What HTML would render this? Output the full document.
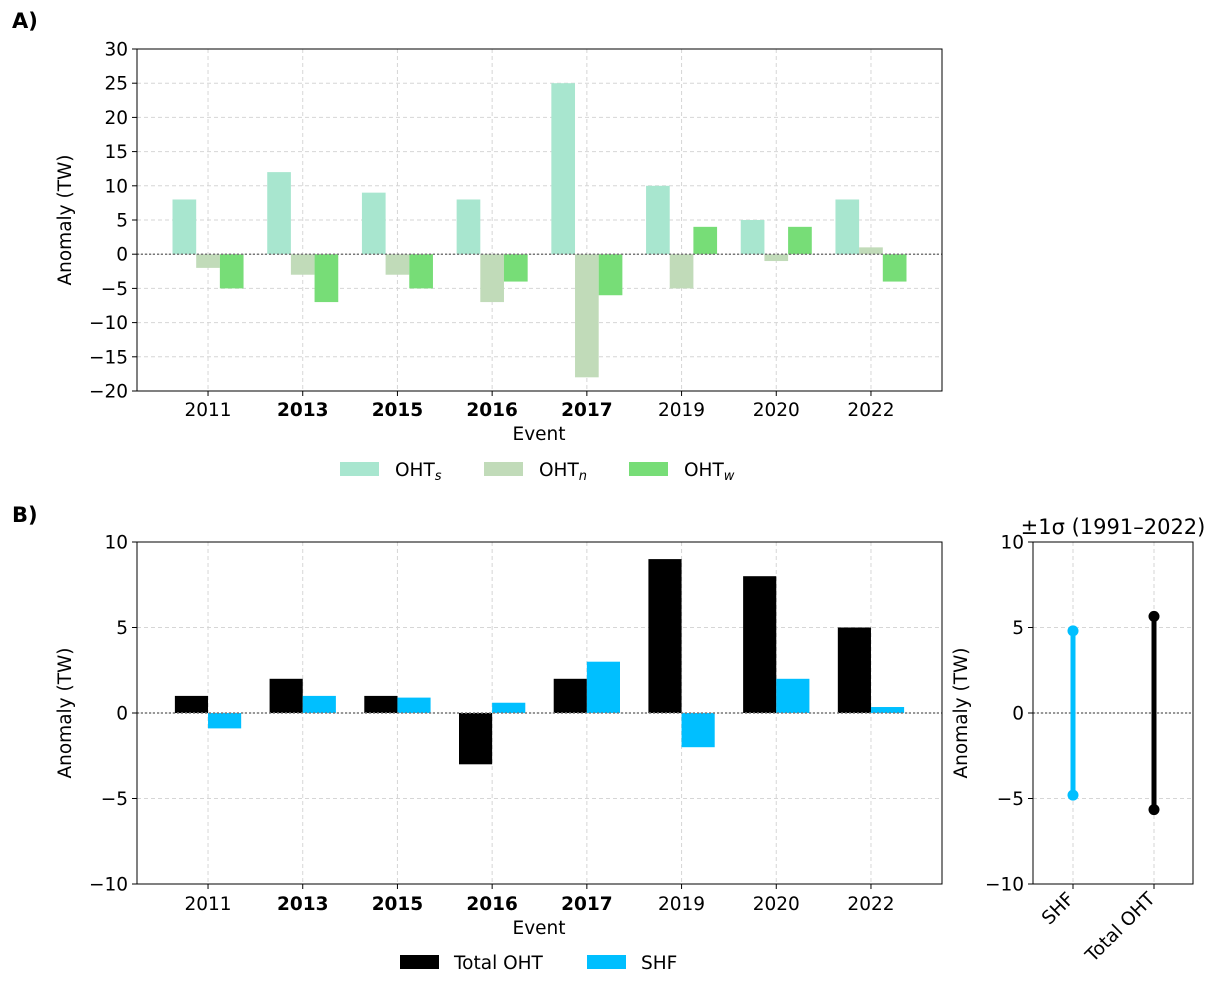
<!DOCTYPE html>
<html><head><meta charset="utf-8"><style>
body{margin:0;background:#fff;font-family:"DejaVu Sans","Liberation Sans",sans-serif;}
svg text{font-family:"DejaVu Sans","Liberation Sans",sans-serif;}
</style></head><body>
<svg id="s" width="1216" height="981" xmlns="http://www.w3.org/2000/svg"></svg>
<script>
const events=["2011","2013","2015","2016","2017","2019","2020","2022"];
const boldEvents=[false,true,true,true,true,false,false,false];
const ohtS=[8,12,9,8,25,10,5,8];
const ohtN=[-2,-3,-3,-7,-18,-5,-1,1];
const ohtW=[-5,-7,-5,-4,-6,4,4,-4];
const ticksA=[-20,-15,-10,-5,0,5,10,15,20,25,30];
const totalOHT=[1,2,1,-3,2,9,8,5];
const shf=[-0.9,1,0.9,0.6,3,-2,2,0.35];
const ticksB=[-10,-5,0,5,10];
const sigmaLabels=["SHF","Total OHT"];
const sigmaVals=[4.8,5.65];

const FS='18.5';
const NS="http://www.w3.org/2000/svg";
const svg=document.getElementById('s');
function el(t,a,txt){const e=document.createElementNS(NS,t);for(const k in a)e.setAttribute(k,a[k]);if(txt!==undefined)e.textContent=txt;svg.appendChild(e);return e;}

function panel(x0,x1,y0,y1,ymin,ymax,ticks,pfx){
  const sy=v=>y1-(v-ymin)/(ymax-ymin)*(y1-y0);
  ticks.forEach(t=>{
    const g=el('line',{x1:x0,x2:x1,y1:sy(t),y2:sy(t),stroke:'#d6d6d6','stroke-dasharray':'4,3'});
    
    const tk=el('line',{x1:x0-5,x2:x0,y1:sy(t),y2:sy(t),stroke:'#000'});
    
    const lb=el('text',{x:x0-9,y:sy(t)+6.5,'text-anchor':'end','font-size':FS},t<0?'\u2212'+(-t):String(t));
    
  });
  return sy;
}

// Panel A
const ax0=137,ax1=942,ay0=49,ay1=391;
const sp=(ax1-ax0)/8.5;
const cx=i=>ax0+sp*(0.75+i);
const syA=panel(ax0,ax1,ay0,ay1,-20,30,ticksA,'panel-a');
events.forEach((e,i)=>{const g=el('line',{x1:cx(i),x2:cx(i),y1:ay0,y2:ay1,stroke:'#d6d6d6','stroke-dasharray':'4,3'});});
const bwA=sp*0.25;
[[ohtS,'#a8e6cf',-1,'oht-s'],[ohtN,'#c1dbb9',0,'oht-n'],[ohtW,'#77dd77',1,'oht-w']].forEach(([arr,c,o,n])=>{
  arr.forEach((v,i)=>{const x=cx(i)+o*bwA-bwA/2;const r=el('rect',{x:x,y:Math.min(syA(v),syA(0)),width:bwA,height:Math.abs(syA(v)-syA(0)),fill:c});
  });
});
el('line',{x1:ax0,x2:ax1,y1:syA(0),y2:syA(0),stroke:'#777','stroke-dasharray':'2,2','stroke-width':1.5});
events.forEach((e,i)=>{el('line',{x1:cx(i),x2:cx(i),y1:ay1,y2:ay1+5,stroke:'#000'});
  const t=el('text',{x:cx(i),y:ay1+25,'text-anchor':'middle','font-size':FS,'font-weight':boldEvents[i]?'bold':'normal'},e);
  });
el('rect',{x:ax0,y:ay0,width:ax1-ax0,height:ay1-ay0,fill:'none',stroke:'#000'});
el('text',{x:539,y:440,'text-anchor':'middle','font-size':FS},'Event');
el('text',{x:71,y:220,'text-anchor':'middle','font-size':FS,transform:'rotate(-90 71 220)'},'Anomaly (TW)');
el('text',{x:12,y:28,'font-size':'21','font-weight':'bold'},'A)');
[[340,'#a8e6cf','s'],[484,'#c1dbb9','n'],[629,'#77dd77','w']].forEach(([x,c,s])=>{
  const r=el('rect',{x:x,y:462,width:39,height:14,fill:c});
  const t=el('text',{x:x+55,y:476,'font-size':FS});t.innerHTML='OHT<tspan font-size="13" font-style="italic" dy="4">'+s+'</tspan>';
  });

// Panel B
const by0=542,by1=884;
const syB=panel(ax0,ax1,by0,by1,-10,10,ticksB,'panel-b');
events.forEach((e,i)=>{el('line',{x1:cx(i),x2:cx(i),y1:by0,y2:by1,stroke:'#d6d6d6','stroke-dasharray':'4,3'});});
const bwB=sp*0.35;
[[totalOHT,'#000',-1,'total-oht'],[shf,'#00bfff',1,'shf']].forEach(([arr,c,o,n])=>{
  arr.forEach((v,i)=>{const x=cx(i)+o*bwB/2-bwB/2;const r=el('rect',{x:x,y:Math.min(syB(v),syB(0)),width:bwB,height:Math.abs(syB(v)-syB(0)),fill:c});
  });
});
el('line',{x1:ax0,x2:ax1,y1:syB(0),y2:syB(0),stroke:'#777','stroke-dasharray':'2,2','stroke-width':1.5});
events.forEach((e,i)=>{el('line',{x1:cx(i),x2:cx(i),y1:by1,y2:by1+5,stroke:'#000'});
  const t=el('text',{x:cx(i),y:by1+26,'text-anchor':'middle','font-size':FS,'font-weight':boldEvents[i]?'bold':'normal'},e);
  });
el('rect',{x:ax0,y:by0,width:ax1-ax0,height:by1-by0,fill:'none',stroke:'#000'});
el('text',{x:539,y:934,'text-anchor':'middle','font-size':FS},'Event');
el('text',{x:71,y:713,'text-anchor':'middle','font-size':FS,transform:'rotate(-90 71 713)'},'Anomaly (TW)');
el('text',{x:12,y:522,'font-size':'21','font-weight':'bold'},'B)');
el('rect',{x:400,y:955,width:39,height:14,fill:'#000'});
el('text',{x:454,y:969,'font-size':FS},'Total OHT');
el('rect',{x:587,y:955,width:39,height:14,fill:'#00bfff'});
el('text',{x:641,y:969,'font-size':FS},'SHF');

// Sigma panel
const cx0=1033,cx1=1193;
const syC=panel(cx0,cx1,by0,by1,-10,10,ticksB,'sigma');
const sx=[1073,1154];const cols=['#00bfff','#000'];
sigmaLabels.forEach((l,i)=>{
  el('line',{x1:sx[i],x2:sx[i],y1:by0,y2:by1,stroke:'#d6d6d6','stroke-dasharray':'4,3'});
});
el('line',{x1:cx0,x2:cx1,y1:syC(0),y2:syC(0),stroke:'#777','stroke-dasharray':'2,2','stroke-width':1.5});
sigmaLabels.forEach((l,i)=>{
  const ln=el('line',{x1:sx[i],x2:sx[i],y1:syC(sigmaVals[i]),y2:syC(-sigmaVals[i]),stroke:cols[i],'stroke-width':5});
  
  [sigmaVals[i],-sigmaVals[i]].forEach(v=>{const c=el('circle',{cx:sx[i],cy:syC(v),r:5.5,fill:cols[i]});});
  el('line',{x1:sx[i],x2:sx[i],y1:by1,y2:by1+5,stroke:'#000'});
  const t=el('text',{x:sx[i]+2,y:by1+16,'text-anchor':'end','font-size':FS,transform:`rotate(-45 ${sx[i]+2} ${by1+16})`},l);
  
});
el('rect',{x:cx0,y:by0,width:cx1-cx0,height:by1-by0,fill:'none',stroke:'#000'});
el('text',{x:1113,y:534,'text-anchor':'middle','font-size':'21'},'±1σ (1991–2022)');
el('text',{x:967,y:713,'text-anchor':'middle','font-size':FS,transform:'rotate(-90 967 713)'},'Anomaly (TW)');
</script>
</body></html>
